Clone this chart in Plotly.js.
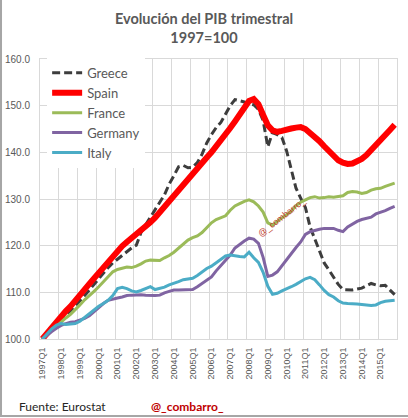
<!DOCTYPE html>
<html><head><meta charset="utf-8">
<script src="https://cdn.plot.ly/plotly-3.0.1.min.js"></script>
<style>html,body{margin:0;padding:0;background:#fff;}#chart{width:408px;height:418px;}</style>
</head><body><div id="chart"></div>
<script>
const years = [1997,1998,1999,2000,2001,2002,2003,2004,2005,2006,2007,2008,2009,2010,2011,2012,2013,2014,2015];
const quarterNames = ['Q1','Q2','Q3','Q4'];
const quarters = years.flatMap(y => quarterNames.map(q => y + q));

const seriesNames = ['Greece','Spain','France','Germany','Italy'];

const greece = [
 100.0,101.5,102.7,103.6,104.5,105.2,106.0,107.0,108.2,109.3,
 110.5,111.8,113.0,114.2,115.3,116.3,117.1,118.0,118.7,119.5,
 120.1,122.8,124.5,126.2,127.6,129.3,130.9,133.2,135.0,136.9,
 137.2,136.7,136.8,137.8,139.6,142.0,143.8,145.3,146.4,148.2,
 150.0,151.3,151.1,150.8,150.4,150.2,149.2,146.8,141.2,144.2,
 143.8,143.2,140.3,136.4,132.3,130.2,128.2,124.0,121.5,118.8,
 116.3,114.8,113.2,111.7,110.6,110.5,110.5,110.7,110.9,111.4,
 111.9,111.6,111.4,111.5,110.6,109.5
];
const spain = [
 100.0,101.3,102.5,103.8,105.0,106.0,107.0,108.1,109.2,110.5,
 111.8,113.0,114.2,115.5,116.8,118.0,119.0,119.9,120.8,121.6,
 122.4,123.1,123.8,125.0,126.0,127.2,128.5,129.6,130.8,132.0,
 133.1,134.2,135.3,136.5,137.7,138.9,140.0,141.2,142.5,143.8,
 145.2,146.6,148.0,149.6,151.0,151.4,150.3,148.0,145.8,144.7,
 144.4,144.6,145.0,145.1,145.3,145.4,145.0,144.2,143.3,142.4,
 141.3,140.2,139.1,138.3,137.8,137.5,137.6,138.0,138.6,139.4,
 140.4,141.5,142.6,143.7,144.8,145.9
];
const france = [
 100.0,100.9,101.9,102.9,103.7,104.5,105.3,106.2,107.3,108.4,
 109.2,110.2,111.2,112.3,113.4,114.4,114.9,115.2,115.4,115.3,
 115.6,116.1,116.7,116.9,116.9,116.8,117.4,117.9,118.6,119.4,
 120.3,121.2,121.7,122.1,122.8,123.8,124.9,125.6,126.0,126.4,
 127.6,128.5,129.0,129.5,129.8,129.4,128.5,127.2,124.9,124.4,
 125.2,126.0,126.6,127.4,128.6,129.3,129.8,130.3,130.5,130.2,
 130.3,130.5,130.4,130.6,130.7,131.4,131.6,131.5,131.2,131.4,
 131.9,132.2,132.3,132.7,133.0,133.4
];
const germany = [
 100.0,100.9,101.6,102.3,102.9,103.3,103.6,103.7,104.0,104.4,
 105.0,105.9,106.8,107.6,108.3,108.6,108.8,109.0,109.3,109.4,
 109.5,109.5,109.4,109.3,109.3,109.4,109.9,110.2,110.5,110.5,
 110.5,110.5,110.6,111.2,111.9,112.5,113.3,114.6,115.8,116.9,
 118.0,119.5,120.3,121.0,121.6,121.4,120.5,117.5,113.4,113.7,
 114.4,115.7,117.0,118.5,119.6,120.8,122.4,123.0,123.3,123.5,
 123.7,123.7,123.7,123.3,123.0,124.0,124.6,125.2,125.6,125.8,
 126.1,126.8,127.1,127.5,128.0,128.4
];
const italy = [
 100.0,101.2,102.2,103.0,103.3,103.1,103.2,103.3,103.8,104.6,
 105.4,106.3,107.0,107.6,108.3,109.3,110.8,111.1,110.8,110.3,
 110.1,110.4,110.8,111.2,110.6,110.9,111.1,111.6,111.9,112.3,
 112.7,112.9,113.0,113.6,114.4,115.1,115.6,116.3,117.0,117.8,
 118.0,117.8,117.7,117.6,118.6,117.4,116.4,114.3,111.3,109.6,
 109.8,110.3,110.7,111.2,111.7,112.3,112.9,113.2,112.7,111.6,
 110.4,109.5,109.0,108.2,107.7,107.6,107.6,107.5,107.4,107.3,
 107.2,107.3,107.8,108.1,108.2,108.3
];

const seriesValues = [greece, spain, france, germany, italy];
const seriesColors = ['#3d3d3d', '#FF0000', '#9BBB59', '#8064A2', '#4BACC6'];
const seriesWidths = [3, 6, 3, 3, 3];
const seriesDash = ['8px,4px', 'solid', 'solid', 'solid', 'solid'];

const idx = quarters.map((q, i) => i);
const tickIdx = idx.filter(i => i % 4 === 0);
const tickText = tickIdx.map(i => quarters[i]);
const gridIdx = tickIdx.map(i => i - 0.5).concat([quarters.length - 0.5]);

const traces = seriesNames.map((name, k) => ({
  type: 'scatter', mode: 'lines', name: name,
  x: idx, y: seriesValues[k], text: quarters,
  line: {color: seriesColors[k], width: seriesWidths[k], dash: seriesDash[k]},
  hoverinfo: 'text+y+name'
}));

const gridColor = '#D9D9D9';
const layout = {
  width: 408, height: 418,
  margin: {l: 40, r: 11, t: 58.5, b: 79.1, pad: 0},
  paper_bgcolor: '#ffffff', plot_bgcolor: '#ffffff',
  title: {
    text: '<b>Evolución del PIB trimestral</b><br><b>1997=100</b>',
    font: {family: 'Lato, "Open Sans", sans-serif', size: 14.5, color: '#595959'},
    x: 0.5, xref: 'container', xanchor: 'center',
    y: 0.943, yref: 'container', yanchor: 'top'
  },
  showlegend: true,
  legend: {
    x: 0.02, y: 1.004, xanchor: 'left', yanchor: 'top',
    bgcolor: '#ffffff', borderwidth: 0,
    font: {family: 'Lato, "Open Sans", sans-serif', size: 13, color: '#595959'}
  },
  xaxis: {
    type: 'linear', range: [-0.5, quarters.length - 0.5],
    tickmode: 'array', tickvals: tickIdx, ticktext: tickText,
    tickangle: -90, ticks: '', showgrid: false, zeroline: false,
    ticklabelstandoff: 4,
    tickfont: {family: '"Liberation Sans", Arial, sans-serif', size: 9, color: '#595959'},
    minor: {tickmode: 'array', tickvals: gridIdx, showgrid: true, gridcolor: gridColor, gridwidth: 1, ticks: ''},
    showline: true, mirror: true, linecolor: gridColor, linewidth: 1
  },
  yaxis: {
    range: [100, 160], dtick: 10, tick0: 100, tickformat: '.1f',
    ticks: '', showgrid: true, gridcolor: gridColor, zeroline: false,
    ticklabelstandoff: 7,
    tickfont: {family: '"Liberation Sans", Arial, sans-serif', size: 10, color: '#595959'},
    showline: true, mirror: true, linecolor: gridColor, linewidth: 1
  },
  annotations: [
    {text: 'Fuente: Eurostat', xref: 'paper', yref: 'paper', x: -0.0644, y: -0.242,
     xanchor: 'left', yanchor: 'middle', showarrow: false,
     font: {family: 'Lato, "Open Sans", sans-serif', size: 12, color: '#262626'}},
    {text: '<b>@_combarro_</b>', xref: 'paper', yref: 'paper', x: 0.3053, y: -0.242,
     xanchor: 'left', yanchor: 'middle', showarrow: false,
     font: {family: 'Lato, "Open Sans", sans-serif', size: 12, color: '#C00000'}},
    {text: '@_combarro_', xref: 'paper', yref: 'paper', x: 0.678, y: 0.435,
     xanchor: 'center', yanchor: 'middle', showarrow: false, textangle: -38,
     font: {family: '"Liberation Sans", Arial, sans-serif', size: 9, color: '#C0392B'}}
  ],
  shapes: [
    {type: 'path', xref: 'paper', yref: 'paper',
     path: 'M -0.1092,1.25 L -0.1092,-0.275 L 1.05,-0.275',
     line: {color: '#A6A6A6', width: 2}, layer: 'above'}
  ]
};

Plotly.newPlot('chart', traces, layout, {displayModeBar: false, staticPlot: true});
</script>
</body></html>
